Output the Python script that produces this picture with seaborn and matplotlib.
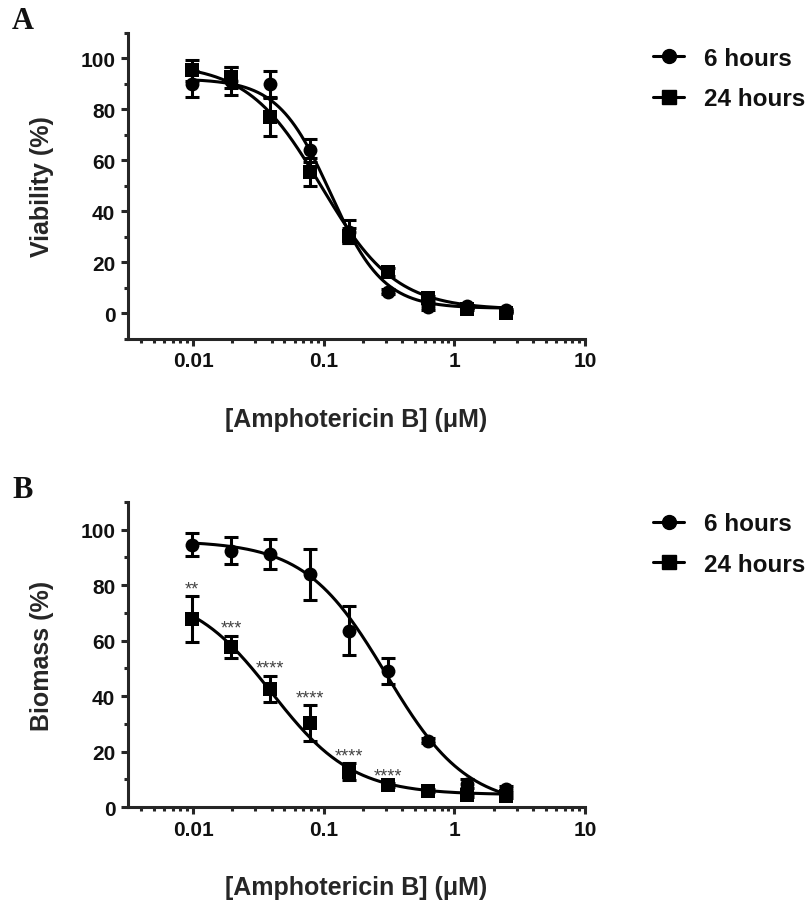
import numpy as np
import pandas as pd
import matplotlib
matplotlib.use("Agg")
import matplotlib.pyplot as plt
import seaborn as sns
from matplotlib.lines import Line2D
from matplotlib.ticker import FixedLocator, LogLocator, MultipleLocator, NullFormatter

# concentrations (two-fold dilutions from 2.5 uM)
conc = [0.00977, 0.0195, 0.039, 0.078, 0.156, 0.3125, 0.625, 1.25, 2.5]

# panel A - viability
via_6h = [90.0, 91.0, 90.0, 64.0, 32.0, 8.5, 2.5, 2.8, 1.3]
via_6h_err = [5.0, 5.5, 5.0, 4.5, 4.5, 1.0, 1.0, 0.5, 0.3]
via_24h = [95.3, 92.5, 77.0, 55.5, 30.5, 16.3, 6.0, 1.8, 0.3]
via_24h_err = [4.2, 4.0, 7.5, 5.5, 3.0, 1.5, 1.0, 0.5, 0.3]

# panel B - biomass
bio_6h = [94.6, 92.4, 91.2, 83.9, 63.6, 49.1, 24.0, 8.5, 6.5]
bio_6h_err = [4.1, 4.8, 5.5, 9.1, 8.9, 4.7, 1.0, 1.5, 1.0]
bio_24h = [67.8, 57.7, 42.6, 30.3, 12.8, 7.9, 5.9, 4.3, 3.9]
bio_24h_err = [8.3, 4.1, 4.8, 6.6, 3.0, 0.8, 0.5, 0.5, 0.5]
bio_stars = ["**", "***", "****", "****", "****", "****", "", "", ""]

# fitted dose-response parameters (top, bottom, IC50, hill slope)
fit_via_6h = (92.0, 2.0, 0.113, 2.15)
fit_via_24h = (98.0, 1.5, 0.096, 1.53)
fit_bio_6h = (96.0, 0.0, 0.30, 1.4)
fit_bio_24h = (78.0, 4.5, 0.040, 1.4)

series_labels = ["6 hours", "24 hours"]


def logistic(x, p):
    top, bottom, ic50, hill = p
    return bottom + (top - bottom) / (1 + (x / ic50) ** hill)


sns.set_style("ticks")
plt.rcParams['font.family'] = ['Liberation Sans', 'DejaVu Sans']
plt.rcParams['font.weight'] = 'bold'
plt.rcParams['axes.labelweight'] = 'bold'
plt.rcParams['text.color'] = '#111111'

fig = plt.figure(figsize=(8.09, 9.04), dpi=100)
ax_a = fig.add_axes([0.158, 0.624, 0.565, 0.3386])
ax_b = fig.add_axes([0.158, 0.106, 0.565, 0.3376])

LW = 2.2
MS = 10


def draw_panel(ax, y6, e6, y24, e24, p6, p24, ylim, ylabel):
    xs = np.logspace(np.log10(conc[0]), np.log10(conc[-1]), 300)
    for p in (p6, p24):
        curve = pd.DataFrame({"x": xs, "y": logistic(xs, p)})
        sns.lineplot(data=curve, x="x", y="y", ax=ax, color="black", lw=LW)
    for y, e, m, ms in ((y6, e6, "o", MS), (y24, e24, "s", MS - 0.5)):
        ax.errorbar(conc, y, yerr=e, fmt="none", ecolor="black",
                    elinewidth=LW, capsize=4.7, capthick=LW, zorder=3)
        pts = pd.DataFrame({"x": conc, "y": y})
        sns.scatterplot(data=pts, x="x", y="y", ax=ax, marker=m, s=ms ** 2,
                        color="black", edgecolor="black", linewidth=0, zorder=4)

    ax.set_xscale("log")
    ax.set_xlim(10 ** -2.5, 10)
    ax.set_ylim(*ylim)
    ax.xaxis.set_major_locator(FixedLocator([0.01, 0.1, 1, 10]))
    ax.set_xticklabels(["0.01", "0.1", "1", "10"])
    ax.xaxis.set_minor_locator(LogLocator(base=10, subs=np.arange(2, 10)))
    ax.xaxis.set_minor_formatter(NullFormatter())
    ax.yaxis.set_major_locator(FixedLocator([0, 20, 40, 60, 80, 100]))
    ax.yaxis.set_minor_locator(MultipleLocator(10))

    sns.despine(ax=ax)
    for s in ("left", "bottom"):
        ax.spines[s].set_linewidth(LW)
    ax.tick_params(which="major", length=5, width=LW, labelsize=15, pad=4,
                   labelcolor="#111111")
    ax.tick_params(which="minor", length=3, width=LW)
    ax.set_xlabel("[Amphotericin B] (\u03bcM)", fontsize=18, labelpad=26)
    ax.set_ylabel(ylabel, fontsize=18, labelpad=19)

    handles = [Line2D([], [], color="black", lw=LW, marker="o", ms=MS),
               Line2D([], [], color="black", lw=LW, marker="s", ms=MS - 0.5)]
    return handles


h = draw_panel(ax_a, via_6h, via_6h_err, via_24h, via_24h_err,
               fit_via_6h, fit_via_24h, (-10, 110), "Viability (%)")
fig.legend(h, series_labels, loc="upper left", bbox_to_anchor=(0.807, 0.947),
           frameon=False, fontsize=17.5, handlelength=1.3, handletextpad=0.8,
           borderpad=0, borderaxespad=0, labelspacing=0.72)

h = draw_panel(ax_b, bio_6h, bio_6h_err, bio_24h, bio_24h_err,
               fit_bio_6h, fit_bio_24h, (0, 110), "Biomass (%)")
fig.legend(h, series_labels, loc="upper left", bbox_to_anchor=(0.807, 0.432),
           frameon=False, fontsize=17.5, handlelength=1.3, handletextpad=0.8,
           borderpad=0, borderaxespad=0, labelspacing=0.72)

# significance stars above the 24 h biomass points
for x, y, e, st in zip(conc, bio_24h, bio_24h_err, bio_stars):
    if st:
        ax_b.annotate(st, (x, y + e), xytext=(0, 2), textcoords="offset points",
                      ha="center", va="baseline", fontsize=13,
                      fontweight="normal", color="#444444")

fig.text(0.028, 0.976, "A", family=["Liberation Serif"], fontweight="bold",
         fontsize=22, ha="center", va="center")
fig.text(0.028, 0.457, "B", family=["Liberation Serif"], fontweight="bold",
         fontsize=22, ha="center", va="center")

fig.savefig("out.png", dpi=100)
